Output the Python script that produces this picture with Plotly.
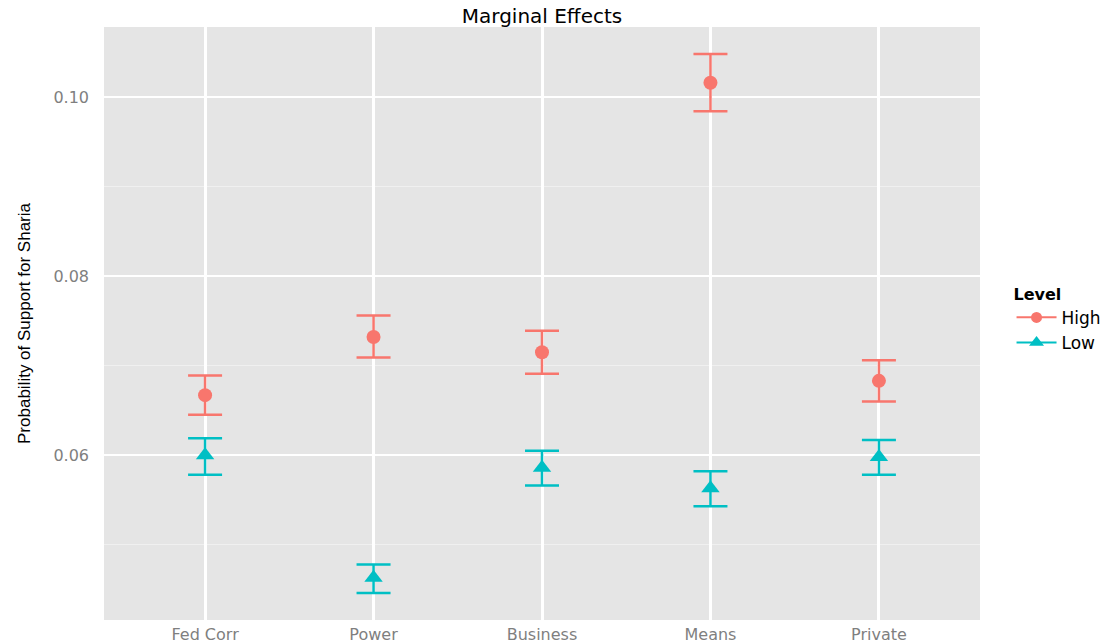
import plotly.graph_objects as go

categories = ["Fed Corr", "Power", "Business", "Means", "Private"]
high_est = [0.0667, 0.0732, 0.0715, 0.1016, 0.0683]
high_lo = [0.0645, 0.0709, 0.0691, 0.0984, 0.0660]
high_hi = [0.0689, 0.0756, 0.0739, 0.1048, 0.0706]
low_est = [0.0600, 0.0463, 0.0586, 0.0563, 0.0598]
low_lo = [0.0578, 0.0446, 0.0566, 0.0543, 0.0578]
low_hi = [0.0619, 0.0478, 0.0605, 0.0582, 0.0617]

RED = "#F8766D"
CYAN = "#00BFC4"
TICKFONT = "DejaVu Sans, Liberation Sans, Arial, sans-serif"

fig = go.Figure()

def add_series(name, est, lo, hi, color, symbol, msize):
    fig.add_trace(go.Scatter(
        x=categories, y=est, mode="markers", name=name, showlegend=False,
        marker=dict(color=color, symbol=symbol, size=msize),
        error_y=dict(type="data", symmetric=False,
                     array=[h - e for h, e in zip(hi, est)],
                     arrayminus=[e - l for e, l in zip(est, lo)],
                     color=color, thickness=2.5, width=17),
    ))
    fig.add_trace(go.Scatter(
        x=[None], y=[None], mode="lines+markers", name=name,
        line=dict(color=color, width=2),
        marker=dict(color=color, symbol=symbol, size=msize - 3),
    ))

add_series("High", high_est, high_lo, high_hi, RED, "circle", 14)
add_series("Low", low_est, low_lo, low_hi, CYAN, "triangle-up", 16)

fig.update_layout(
    width=1112, height=644,
    margin=dict(l=104, r=132, t=27, b=24, autoexpand=False),
    paper_bgcolor="white",
    plot_bgcolor="#E5E5E5",
    font=dict(family=TICKFONT),
    title=dict(text="Marginal Effects", x=0.4874, xanchor="center",
               xref="container", yref="container",
               y=0.975, yanchor="middle", automargin=False,
               font=dict(size=20, color="black", family=TICKFONT)),
    showlegend=True,
    legend=dict(
        title=dict(text="<b>Level</b>", font=dict(size=16, color="black")),
        x=1.036, xanchor="left", y=0.575, yanchor="top",
        font=dict(size=17, color="black"),
        bgcolor="rgba(0,0,0,0)", tracegroupgap=0, itemwidth=40,
    ),
    xaxis=dict(
        type="category", range=[-0.6, 4.6], automargin=False,
        showgrid=True, gridcolor="white", gridwidth=2.5,
        showline=False, zeroline=False, ticks="", ticklabelstandoff=3,
        tickfont=dict(size=16, color="#7F7F7F"),
    ),
    yaxis=dict(
        range=[0.04159, 0.10782], automargin=False,
        tickvals=[0.06, 0.08, 0.10], ticktext=["0.06", "0.08", "0.10"],
        showgrid=True, gridcolor="white", gridwidth=2,
        minor=dict(tickvals=[0.05, 0.07, 0.09], showgrid=True,
                   gridcolor="#F0F0F0", gridwidth=1),
        showline=False, zeroline=False, ticks="", ticklabelstandoff=14,
        tickfont=dict(size=16, color="#7F7F7F"),
        title=dict(text="Probability of Support for Sharia",
                   font=dict(size=17, color="black",
                             family="Liberation Sans Narrow, Liberation Sans, Arial"),
                   standoff=18),
    ),
)

fig.write_html("out.html", config={"displayModeBar": False},
               post_script="document.body.style.margin='0';document.body.style.overflow='hidden';")
